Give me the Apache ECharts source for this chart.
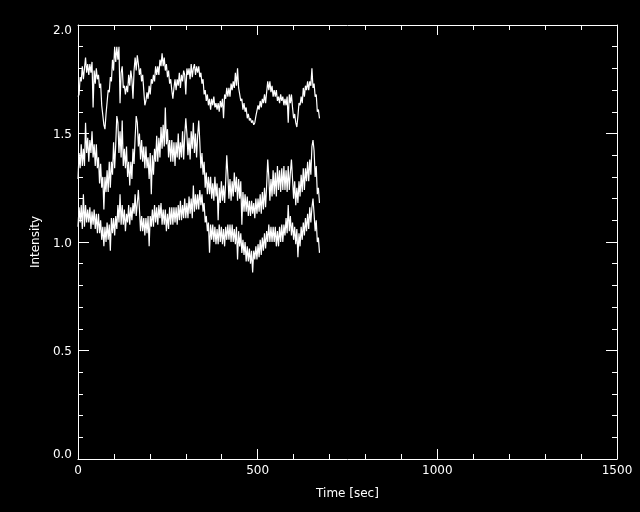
<!DOCTYPE html>
<html>
<head>
<meta charset="utf-8">
<script src="https://cdn.jsdelivr.net/npm/echarts@6/dist/echarts.min.js"></script>
<style>
html,body{margin:0;padding:0;background:#000;}
#c{width:640px;height:512px;}
</style>
</head>
<body>
<div id="c"></div>
<script>
// Time samples (sec)
const times = [
0,3,6,9,12,15,18,21,24,27,
30,33,36,39,42,45,48,51,54,57,
60,63,66,69,72,75,78,81,84,87,
90,93,96,99,102,105,108,111,114,117,
120,123,126,129,132,135,138,141,144,147,
150,153,156,159,162,165,168,171,174,177,
180,183,186,189,192,195,198,201,204,207,
210,213,216,219,222,225,228,231,234,237,
240,243,246,249,252,255,258,261,264,267,
270,273,276,279,282,285,288,291,294,297,
300,303,306,309,312,315,318,321,324,327,
330,333,336,339,342,345,348,351,354,357,
360,363,366,369,372,375,378,381,384,387,
390,393,396,399,402,405,408,411,414,417,
420,423,426,429,432,435,438,441,444,447,
450,453,456,459,462,465,468,471,474,477,
480,483,486,489,492,495,498,501,504,507,
510,513,516,519,522,525,528,531,534,537,
540,543,546,549,552,555,558,561,564,567,
570,573,576,579,582,585,588,591,594,597,
600,603,606,609,612,615,618,621,624,627,
630,633,636,639,642,645,648,651,654,657,
660,663,666,669,672
];
// Upper curve
const intensityTop = [
1.67,1.68,1.76,1.74,1.81,1.75,1.80,1.85,1.78,1.82,
1.77,1.82,1.78,1.83,1.62,1.79,1.73,1.80,1.75,1.77,
1.71,1.73,1.63,1.63,1.54,1.52,1.59,1.59,1.70,1.69,
1.76,1.74,1.84,1.79,1.90,1.83,1.90,1.84,1.90,1.64,
1.78,1.81,1.71,1.72,1.68,1.72,1.69,1.77,1.72,1.79,
1.75,1.66,1.79,1.85,1.79,1.86,1.82,1.77,1.80,1.74,
1.77,1.70,1.63,1.65,1.69,1.66,1.72,1.68,1.75,1.73,
1.77,1.74,1.81,1.77,1.81,1.77,1.84,1.81,1.87,1.81,
1.85,1.79,1.82,1.76,1.79,1.73,1.75,1.70,1.66,1.71,
1.75,1.70,1.75,1.72,1.78,1.71,1.77,1.74,1.79,1.77,
1.68,1.80,1.77,1.80,1.75,1.82,1.76,1.80,1.82,1.77,
1.81,1.78,1.81,1.76,1.78,1.73,1.75,1.68,1.70,1.65,
1.68,1.63,1.66,1.61,1.66,1.63,1.67,1.62,1.64,1.61,
1.64,1.60,1.65,1.62,1.66,1.57,1.68,1.66,1.71,1.67,
1.71,1.67,1.73,1.70,1.74,1.71,1.78,1.72,1.80,1.71,
1.71,1.65,1.66,1.61,1.64,1.60,1.62,1.57,1.59,1.56,
1.57,1.55,1.56,1.54,1.55,1.58,1.58,1.63,1.61,1.65,
1.62,1.66,1.64,1.68,1.64,1.69,1.74,1.70,1.74,1.69,
1.72,1.67,1.70,1.67,1.70,1.65,1.67,1.64,1.68,1.65,
1.67,1.63,1.66,1.63,1.67,1.55,1.68,1.64,1.68,1.62,
1.57,1.59,1.55,1.53,1.58,1.64,1.63,1.67,1.64,1.71,
1.67,1.72,1.70,1.74,1.70,1.74,1.72,1.80,1.71,1.73,
1.67,1.68,1.60,1.61,1.57
];
// Middle curve
const intensityMid = [
1.29,1.41,1.34,1.45,1.35,1.43,1.35,1.55,1.41,1.48,
1.37,1.47,1.41,1.51,1.39,1.45,1.35,1.45,1.34,1.39,
1.27,1.36,1.25,1.30,1.15,1.30,1.23,1.33,1.23,1.37,
1.25,1.37,1.31,1.46,1.34,1.45,1.58,1.55,1.41,1.51,
1.39,1.56,1.35,1.43,1.34,1.44,1.30,1.37,1.26,1.37,
1.29,1.43,1.36,1.48,1.58,1.55,1.44,1.50,1.38,1.47,
1.37,1.44,1.34,1.44,1.34,1.39,1.29,1.41,1.22,1.40,
1.31,1.43,1.37,1.49,1.37,1.48,1.39,1.53,1.43,1.54,
1.44,1.62,1.45,1.52,1.39,1.47,1.37,1.47,1.37,1.46,
1.35,1.46,1.39,1.50,1.38,1.46,1.39,1.51,1.38,1.49,
1.57,1.50,1.40,1.48,1.38,1.51,1.43,1.55,1.41,1.50,
1.39,1.49,1.56,1.46,1.34,1.41,1.31,1.37,1.25,1.32,
1.22,1.30,1.22,1.30,1.20,1.27,1.19,1.30,1.21,1.27,
1.10,1.25,1.18,1.28,1.19,1.26,1.18,1.28,1.40,1.31,
1.20,1.29,1.19,1.28,1.21,1.32,1.23,1.30,1.19,1.29,
1.20,1.28,1.08,1.23,1.14,1.22,1.14,1.21,1.12,1.19,
1.12,1.19,1.13,1.18,1.11,1.20,1.13,1.20,1.14,1.22,
1.13,1.23,1.15,1.25,1.16,1.26,1.38,1.30,1.19,1.29,
1.21,1.33,1.22,1.32,1.21,1.35,1.24,1.33,1.23,1.34,
1.24,1.35,1.24,1.33,1.23,1.35,1.24,1.32,1.38,1.29,
1.20,1.28,1.17,1.25,1.18,1.28,1.21,1.31,1.23,1.34,
1.24,1.34,1.28,1.37,1.28,1.38,1.31,1.44,1.47,1.42,
1.30,1.35,1.22,1.25,1.18
];
// Lower curve
const intensityLow = [
1.07,1.16,1.09,1.17,1.06,1.22,1.07,1.17,1.09,1.15,
1.09,1.16,1.06,1.14,1.08,1.15,1.06,1.13,1.04,1.13,
1.04,1.10,1.01,1.07,0.98,1.07,1.00,1.09,1.01,1.08,
0.96,1.11,1.04,1.11,1.03,1.12,1.06,1.17,1.09,1.22,
1.08,1.17,1.08,1.15,1.05,1.13,1.09,1.17,1.08,1.16,
1.10,1.18,1.13,1.22,1.12,1.18,1.24,1.15,1.05,1.12,
1.05,1.11,1.03,1.11,1.04,1.12,0.98,1.12,1.07,1.15,
1.07,1.17,1.09,1.16,1.08,1.17,1.11,1.18,1.08,1.15,
1.08,1.15,1.05,1.13,1.06,1.16,1.08,1.16,1.08,1.16,
1.09,1.16,1.08,1.17,1.10,1.19,1.10,1.17,1.11,1.20,
1.11,1.18,1.11,1.21,1.13,1.20,1.11,1.26,1.14,1.22,
1.15,1.22,1.15,1.24,1.17,1.22,1.14,1.18,1.09,1.12,
1.05,1.09,0.95,1.08,1.01,1.08,1.00,1.07,0.99,1.06,
0.99,1.08,1.00,1.07,0.99,1.06,0.98,1.07,1.01,1.08,
1.01,1.08,1.00,1.08,1.00,1.06,0.99,1.07,0.92,1.05,
0.98,1.04,0.95,1.01,0.94,1.00,0.91,0.98,0.91,0.97,
0.90,0.96,0.86,0.96,0.92,0.98,0.92,0.99,0.93,1.01,
0.94,1.02,0.96,1.04,0.97,1.05,1.00,1.08,1.00,1.07,
1.00,1.07,1.00,1.07,0.98,1.05,0.98,1.07,1.00,1.08,
1.00,1.08,1.03,1.11,1.04,1.17,1.05,1.12,1.03,1.09,
1.01,1.07,0.99,1.06,0.93,1.04,0.98,1.07,1.01,1.09,
1.03,1.11,1.05,1.13,1.06,1.16,1.09,1.16,1.20,1.13,
1.05,1.10,1.00,1.02,0.95
];
const xTicks = [0, 500, 1000, 1500];
const yTicks = [0.0, 0.5, 1.0, 1.5, 2.0];

const FONT = 'DejaVu Sans';
const WHITE = '#ffffff';

function pairs(vals) {
  return vals.map((v, i) => [times[i], v]);
}

const txt = { color: WHITE, fontFamily: FONT, fontSize: 12 };

function xAxisCfg(pos, showLabels) {
  return {
    type: 'value', position: pos, min: xTicks[0], max: xTicks[xTicks.length - 1],
    interval: xTicks[1] - xTicks[0],
    name: showLabels ? 'Time [sec]' : '', nameLocation: 'middle', nameGap: 29,
    nameTextStyle: txt,
    axisLine: { show: true, onZero: false, lineStyle: { color: WHITE, width: 1 } },
    axisTick: { show: true, inside: true, length: 10, lineStyle: { color: WHITE } },
    minorTick: { show: true, splitNumber: 5, length: 5, lineStyle: { color: WHITE } },
    axisLabel: Object.assign({ show: showLabels, margin: 6, formatter: v => String(v) }, txt),
    splitLine: { show: false }, minorSplitLine: { show: false }
  };
}
function yAxisCfg(pos, showLabels) {
  const top = yTicks[yTicks.length - 1], bot = yTicks[0];
  return {
    type: 'value', position: pos, min: bot, max: top,
    interval: yTicks[1] - yTicks[0],
    name: showLabels ? 'Intensity' : '', nameLocation: 'middle', nameGap: 32, nameRotate: 90,
    nameTextStyle: txt,
    axisLine: { show: true, onZero: false, lineStyle: { color: WHITE, width: 1 } },
    axisTick: { show: true, inside: true, length: 11, lineStyle: { color: WHITE } },
    minorTick: { show: true, splitNumber: 5, length: 5, lineStyle: { color: WHITE } },
    axisLabel: Object.assign({
      show: showLabels, margin: 6,
      formatter: v => {
        const s = v.toFixed(1);
        if (Math.abs(v - top) < 1e-9) return '{t|' + s + '}';
        if (Math.abs(v - bot) < 1e-9) return '{b|' + s + '}';
        return '{m|' + s + '}';
      },
      rich: {
        t: Object.assign({ padding: [11, 0, 0, 0] }, txt),
        b: Object.assign({ padding: [0, 0, 8, 0] }, txt),
        m: Object.assign({ padding: [3, 0, 0, 0] }, txt)
      }
    }, txt),
    splitLine: { show: false }, minorSplitLine: { show: false }
  };
}

const lineStyle = { color: WHITE, width: 1.2 };
const chart = echarts.init(document.getElementById('c'), null, { renderer: 'canvas' });
chart.setOption({
  backgroundColor: '#000000',
  animation: false,
  grid: { left: 78, right: 23, top: 25, bottom: 53, containLabel: false },
  xAxis: [xAxisCfg('bottom', true), xAxisCfg('top', false)],
  yAxis: [yAxisCfg('left', true), yAxisCfg('right', false)],
  series: [
    { type: 'line', name: 'top', data: pairs(intensityTop), showSymbol: false, lineStyle, itemStyle: { color: WHITE } },
    { type: 'line', name: 'mid', data: pairs(intensityMid), showSymbol: false, lineStyle, itemStyle: { color: WHITE } },
    { type: 'line', name: 'low', data: pairs(intensityLow), showSymbol: false, lineStyle, itemStyle: { color: WHITE } }
  ]
});
</script>
</body>
</html>
